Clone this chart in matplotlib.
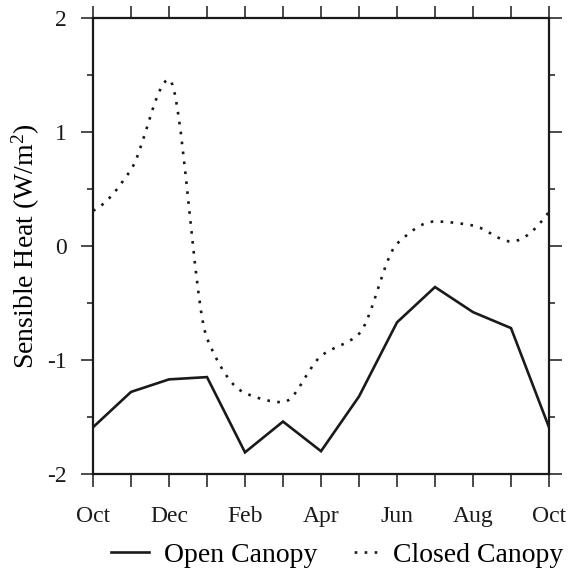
import numpy as np
import matplotlib
matplotlib.use('Agg')
import matplotlib.pyplot as plt
from matplotlib.path import Path
from matplotlib.patches import PathPatch
from matplotlib.lines import Line2D

# ---------------- data ----------------
months = ['Oct', 'Nov', 'Dec', 'Jan', 'Feb', 'Mar', 'Apr',
          'May', 'Jun', 'Jul', 'Aug', 'Sep', 'Oct']
tick_labels = ['Oct', '', 'Dec', '', 'Feb', '', 'Apr', '', 'Jun', '', 'Aug', '', 'Oct']
open_canopy = [-1.59, -1.28, -1.17, -1.15, -1.81, -1.54, -1.80,
               -1.32, -0.67, -0.36, -0.58, -0.72, -1.59]
closed_canopy = [0.31, 0.67, 1.46, -0.81, -1.29, -1.37, -0.965,
                 -0.77, 0.02, 0.215, 0.18, 0.04, 0.30]
series_names = ['Open Canopy', 'Closed Canopy']
y_ticks = [-2, -1, 0, 1, 2]
y_label = 'Sensible Heat (W/m$^2$)'

plt.rcParams['font.family'] = ['Liberation Serif', 'DejaVu Serif']
plt.rcParams['mathtext.fontset'] = 'custom'
plt.rcParams['mathtext.rm'] = 'Liberation Serif'
plt.rcParams['mathtext.it'] = 'Liberation Serif:italic'
plt.rcParams['lines.scale_dashes'] = False

fig = plt.figure(figsize=(5.68, 5.76), dpi=100)
ax = fig.add_axes([93 / 568, 1 - 474 / 576, 456 / 568, 456 / 576])

x = np.arange(len(months))

# Open canopy: straight segments
ax.plot(x, open_canopy, color='#1a1a1a', lw=1.9, solid_joinstyle='miter')

# Closed canopy: smooth monotone (PCHIP-style) Bezier curve through the monthly values
yc = np.asarray(closed_canopy, dtype=float)
d = np.diff(yc)
m = np.zeros_like(yc)
for k in range(1, len(yc) - 1):
    if d[k - 1] * d[k] > 0:
        m[k] = 2.0 / (1.0 / d[k - 1] + 1.0 / d[k])


def _end(d0, d1):
    s = (3 * d0 - d1) / 2.0
    if np.sign(s) != np.sign(d0):
        s = 0.0
    elif np.sign(d0) != np.sign(d1) and abs(s) > abs(3 * d0):
        s = 3 * d0
    return s


m[0] = _end(d[0], d[1])
m[-1] = _end(d[-1], d[-2])
verts = [(x[0], yc[0])]
codes = [Path.MOVETO]
for k in range(len(yc) - 1):
    verts += [(x[k] + 1 / 3, yc[k] + m[k] / 3),
              (x[k + 1] - 1 / 3, yc[k + 1] - m[k + 1] / 3),
              (x[k + 1], yc[k + 1])]
    codes += [Path.CURVE4] * 3
patch = PathPatch(Path(verts, codes), fill=False, edgecolor='#1a1a1a', lw=1.9,
                  linestyle=(0, (1.9, 5.3)), capstyle='butt')
ax.add_patch(patch)

ax.set_xlim(0, 12)
ax.set_ylim(-2, 2)
ax.set_xticks(x)
ax.set_xticklabels(tick_labels)
ax.set_yticks(y_ticks)
ax.set_yticklabels([str(v) if v >= 0 else '-' + str(abs(v)) for v in y_ticks])
ax.set_yticks(np.arange(-1.5, 2, 1.0), minor=True)

for s in ax.spines.values():
    s.set_linewidth(1.6)
    s.set_color('#1a1a1a')
ax.tick_params(axis='both', which='major', direction='out', length=9, width=1.1,
               colors='#1a1a1a', labelsize=17, top=True, right=True)
ax.tick_params(axis='x', which='major', pad=14)
ax.tick_params(axis='y', which='major', pad=10)
ax.tick_params(axis='y', which='minor', direction='out', length=4.5, width=1.1,
               colors='#1a1a1a', left=True, right=True)
ax.tick_params(axis='x', which='minor', bottom=False, top=False)

ax.set_ylabel(y_label, fontsize=20)
ax.yaxis.set_label_coords(-0.112, 0.5)

h_open = Line2D([], [], color='#1a1a1a', lw=1.9)
h_closed = Line2D([], [], color='#1a1a1a', lw=1.9, dash_capstyle='butt',
                  linestyle=(32.4, (1.9, 5.3, 1.9, 5.3, 1.9, 27.0)))
fig.legend([h_open, h_closed], series_names, loc='center',
           bbox_to_anchor=(0.593, 0.036), ncol=2, frameon=False, fontsize=20,
           handlelength=1.37, handletextpad=0.55, columnspacing=0.8,
           borderpad=0.0, borderaxespad=0.0)

fig.savefig('out.png', dpi=100)
